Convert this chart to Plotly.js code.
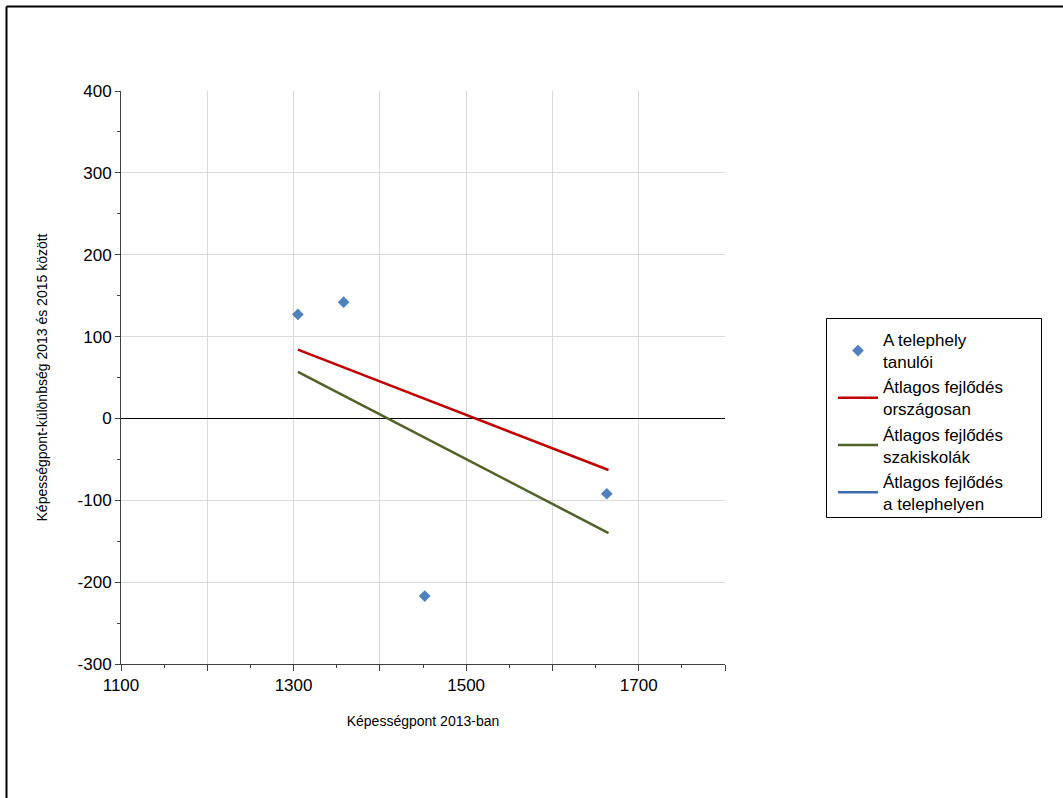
<!DOCTYPE html>
<html><head><meta charset="utf-8">
<script src="https://cdn.plot.ly/plotly-3.0.1.min.js"></script>
<style>html,body{margin:0;padding:0;background:#fff;}#chart{width:1063px;height:798px;}</style>
</head><body><div id="chart"></div>
<script>
// Data
const studentX = [1305, 1358, 1452, 1663];
const studentY = [127, 142, -217, -92];
const nationalX = [1305, 1665];
const nationalY = [84, -63];
const vocationalX = [1305, 1665];
const vocationalY = [57, -140];
const siteX = [null];
const siteY = [null];
const seriesNames = ["A telephely<br>tanulói", "Átlagos fejlődés<br>országosan", "Átlagos fejlődés<br>szakiskolák", "Átlagos fejlődés<br>a telephelyen"];
const xTickVals = [1100, 1200, 1300, 1400, 1500, 1600, 1700, 1800];
const xTickText = ["1100", "", "1300", "", "1500", "", "1700", ""];
const yTickVals = [-300, -200, -100, 0, 100, 200, 300, 400];
const yTickText = ["-300", "-200", "-100", "0", "100", "200", "300", "400"];
const xTitle = "Képességpont 2013-ban";
const yTitle = "Képességpont-különbség 2013 és 2015 között";

const font = "Liberation Sans, Arial, sans-serif";
// plot area in pixels: x 121..725, y 91..664
const L = 121, R = 725, T = 91, B = 664;
const px = v => (v - L) / (R - L);
const py = v => (B - v) / (B - T);

const traces = [
  {x: studentX, y: studentY, name: seriesNames[0], type: "scatter", mode: "markers",
   marker: {symbol: "diamond", size: 9, color: "#4F81BD"}},
  {x: nationalX, y: nationalY, name: seriesNames[1], type: "scatter", mode: "lines",
   line: {color: "#C00000", width: 2.5}},
  {x: vocationalX, y: vocationalY, name: seriesNames[2], type: "scatter", mode: "lines",
   line: {color: "#4F6228", width: 2.5}},
  {x: siteX, y: siteY, name: seriesNames[3], type: "scatter", mode: "lines",
   line: {color: "#3E6AAE", width: 2.5}}
];

const layout = {
  width: 1063, height: 798,
  margin: {l: L, r: 1063 - R, t: T, b: 798 - B},
  paper_bgcolor: "#fff", plot_bgcolor: "#fff",
  font: {family: font, color: "#000", size: 17},
  showlegend: true,
  legend: {x: px(833), y: py(322), xanchor: "left", yanchor: "top",
    bgcolor: "rgba(0,0,0,0)", borderwidth: 0, font: {size: 17, family: font},
    itemwidth: 40, tracegroupgap: 0},
  xaxis: {range: [1100, 1800], tickmode: "array", tickvals: xTickVals, ticktext: xTickText,
    showgrid: true, gridcolor: "#D9D9D9", gridwidth: 1,
    showline: true, linecolor: "#404040", linewidth: 1,
    ticks: "outside", ticklen: 6, tickcolor: "#404040",
    minor: {dtick: 50, ticks: "outside", ticklen: 3, tickcolor: "#404040", showgrid: false},
    zeroline: false, tickfont: {size: 17},
    title: {text: xTitle, font: {size: 14}, standoff: 21}},
  yaxis: {range: [-300, 400], tickmode: "array", tickvals: yTickVals, ticktext: yTickText,
    showgrid: true, gridcolor: "#D9D9D9", gridwidth: 1,
    showline: true, linecolor: "#404040", linewidth: 1,
    ticks: "outside", ticklen: 5, tickcolor: "#404040",
    minor: {dtick: 50, ticks: "outside", ticklen: 3, tickcolor: "#404040", showgrid: false},
    zeroline: true, zerolinecolor: "#000", zerolinewidth: 1,
    tickfont: {size: 17},
    title: {text: yTitle, font: {size: 14}, standoff: 26}},
  shapes: [
    {type: "rect", xref: "paper", yref: "paper", x0: px(826.5), x1: px(1041.5), y0: py(517.5), y1: py(318.5),
     line: {color: "#000", width: 1}, fillcolor: "rgba(0,0,0,0)", layer: "below"},
    {type: "line", xref: "paper", yref: "paper", x0: px(6.5), x1: px(1063), y0: py(6.5), y1: py(6.5),
     line: {color: "#000", width: 2}},
    {type: "line", xref: "paper", yref: "paper", x0: px(6.5), x1: px(6.5), y0: py(6.5), y1: py(798),
     line: {color: "#000", width: 2}}
  ]
};

Plotly.newPlot("chart", traces, layout, {displayModeBar: false, staticPlot: true});
</script></body></html>
